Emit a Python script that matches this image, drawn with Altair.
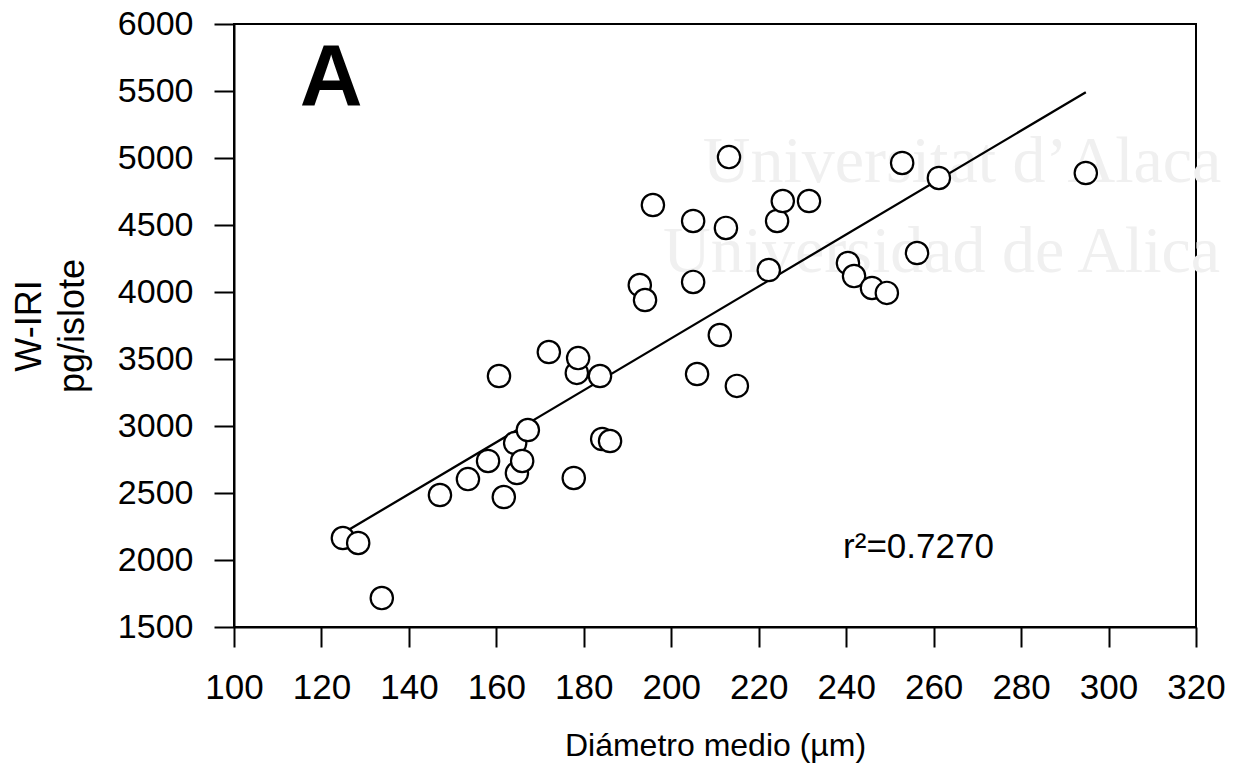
import altair as alt
import pandas as pd

# Scatter data
diametro = [124.9, 128.4, 133.8, 147.1, 153.5, 158.1, 161.7, 160.6, 164.3, 164.7,
            165.9, 167.2, 172.0, 178.4, 178.7, 183.7, 177.7, 184.2, 186.0, 195.8,
            205.0, 212.5, 213.2, 192.8, 194.0, 205.0, 211.1, 205.9, 215.0, 222.3,
            224.2, 225.5, 231.5, 240.4, 241.8, 245.9, 249.3, 252.8, 261.2, 256.2,
            294.8]
wiri = [2164, 2127, 1716, 2485, 2604, 2739, 2470, 3373, 2873, 2649,
        2739, 2970, 3552, 3396, 3507, 3373, 2612, 2903, 2888, 4649,
        4530, 4478, 5007, 4052, 3940, 4075, 3679, 3388, 3299, 4164,
        4530, 4679, 4679, 4216, 4119, 4030, 3993, 4963, 4851, 4291,
        4888]

x_ticks = [100, 120, 140, 160, 180, 200, 220, 240, 260, 280, 300, 320]
y_ticks = [1500, 2000, 2500, 3000, 3500, 4000, 4500, 5000, 5500, 6000]

# Annotations (data coordinates)
panel_label = ["A"]
panel_x = [122.2]
panel_y = [5396]
r2_label = ["r²=0.7270"]
r2_x = [239.3]
r2_y = [2015]
# faint scanned watermark (visible part only)
wm_text = ["Universitat d’Alaca", "Universidad de Alica"]
wm_x = [207.2, 198.1]
wm_y = [4821, 4149]

df = pd.DataFrame({"d": diametro, "w": wiri})
FONT = "Liberation Sans"

xs = alt.Scale(domain=[100, 320], nice=False, zero=False)
ys = alt.Scale(domain=[1500, 6000], nice=False, zero=False)

x_axis = alt.Axis(values=x_ticks, format="d", title="Diámetro medio (µm)", grid=False,
                  tickSize=20, tickWidth=2, tickColor="black",
                  domainColor="black", domainWidth=2,
                  labelFont=FONT, labelFontSize=35, labelColor="black",
                  labelPadding=23, labelFlush=False, labelOverlap=False,
                  titleFont=FONT, titleFontSize=32, titleFontWeight="normal",
                  titleColor="black", titleBaseline="alphabetic", titleY=128)
y_axis = alt.Axis(values=y_ticks, format="d", title=["W-IRI", "pg/islote"], grid=False,
                  tickSize=20, tickWidth=2, tickColor="black",
                  domainColor="black", domainWidth=2,
                  labelFont=FONT, labelFontSize=34, labelColor="black",
                  labelPadding=21, labelFlush=False, labelOverlap=False,
                  titleFont=FONT, titleFontSize=36, titleFontWeight="normal",
                  titleColor="black", titleAngle=270, titleBaseline="alphabetic",
                  titleAlign="center", titleX=-194, titleY=301.5, titleLineHeight=43)

wm = alt.Chart(pd.DataFrame({"t": wm_text, "x": wm_x, "y": wm_y})).mark_text(
    font="Liberation Serif", fontSize=66, color="#f0f0f0", align="left",
    baseline="alphabetic"
).encode(x=alt.X("x:Q", scale=xs, axis=x_axis), y=alt.Y("y:Q", scale=ys, axis=y_axis), text="t:N")

base = alt.Chart(df)
line = base.transform_regression("d", "w").mark_line(color="black", strokeWidth=2.3).encode(
    x=alt.X("d:Q", scale=xs), y=alt.Y("w:Q", scale=ys))
pts = base.mark_point(shape="circle", size=500, filled=False, fill="white", fillOpacity=1,
                      stroke="black", strokeWidth=2.2, opacity=1).encode(
    x=alt.X("d:Q", scale=xs), y=alt.Y("w:Q", scale=ys))

ptxt = alt.Chart(pd.DataFrame({"t": panel_label, "x": panel_x, "y": panel_y})).mark_text(
    font=FONT, fontSize=87, fontWeight="bold", color="black", align="center",
    baseline="alphabetic").encode(x=alt.X("x:Q", scale=xs), y=alt.Y("y:Q", scale=ys), text="t:N")
rtxt = alt.Chart(pd.DataFrame({"t": r2_label, "x": r2_x, "y": r2_y})).mark_text(
    font=FONT, fontSize=35, color="black", align="left",
    baseline="alphabetic").encode(x=alt.X("x:Q", scale=xs), y=alt.Y("y:Q", scale=ys), text="t:N")

chart = alt.layer(wm, line, pts, ptxt, rtxt).properties(
    width=962, height=603,
    padding={"left": 234, "top": 24, "right": 43, "bottom": 147},
    autosize=alt.AutoSizeParams(type="none"),
    background="white",
).configure_view(stroke="black", strokeWidth=2)

chart.save("out.html", embed_options={"renderer": "svg", "actions": False})
